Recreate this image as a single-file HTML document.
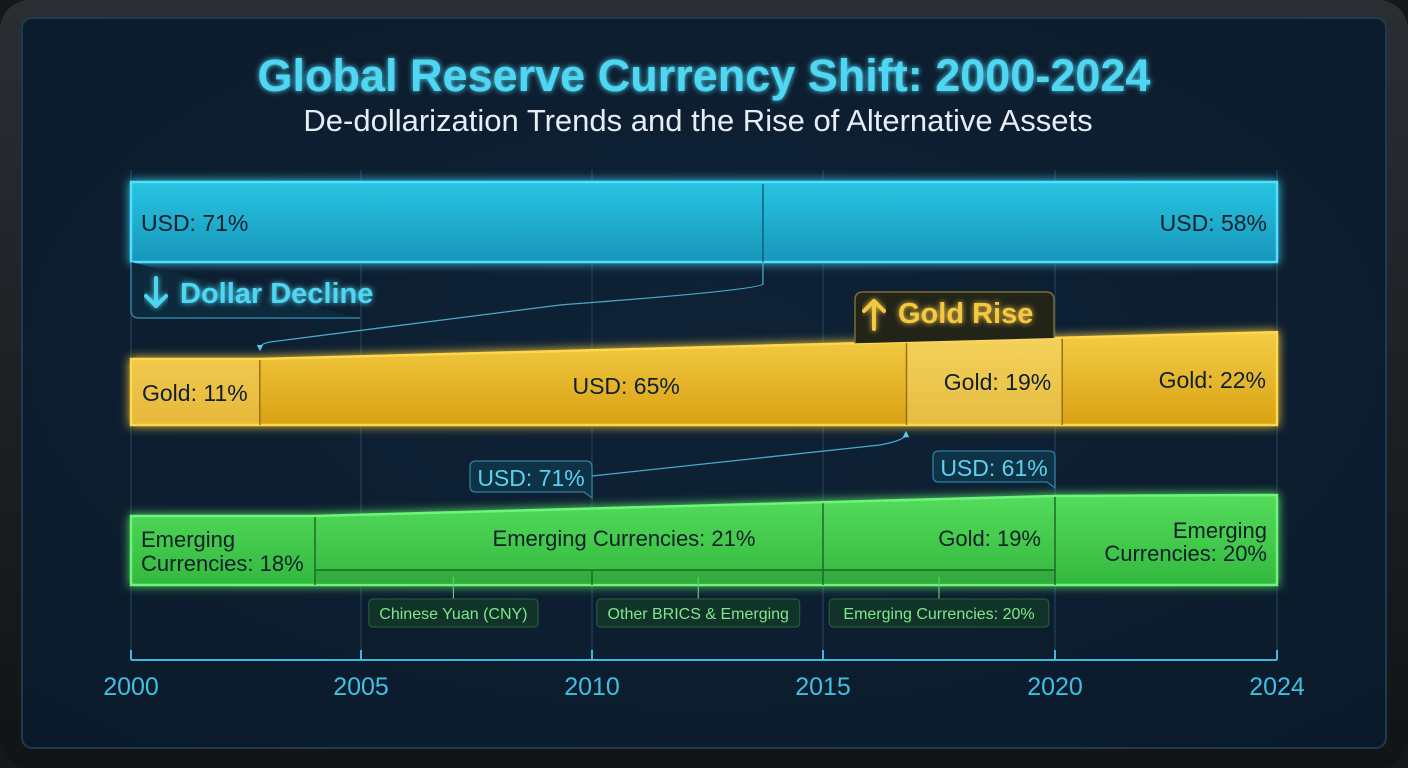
<!DOCTYPE html>
<html><head><meta charset="utf-8"><style>
html,body{margin:0;padding:0;width:1408px;height:768px;overflow:hidden;background:#15181b;}
svg{display:block;font-family:"Liberation Sans",sans-serif;}
</style></head><body>
<svg id="chart" width="1408" height="768" viewBox="0 0 1408 768">
<defs>
<linearGradient id="gBezel" x1="0" y1="0" x2="0" y2="1"><stop offset="0" stop-color="#2a2e33"/><stop offset="1" stop-color="#111315"/></linearGradient>
<radialGradient id="gScreen" cx="0.5" cy="0.45" r="0.75"><stop offset="0" stop-color="#0f2236"/><stop offset="1" stop-color="#0a1a2a"/></radialGradient>
<linearGradient id="gUsd" x1="0" y1="0" x2="0" y2="1"><stop offset="0" stop-color="#28c4e2"/><stop offset="1" stop-color="#1896ba"/></linearGradient>
<linearGradient id="gGold" x1="0" y1="0" x2="0" y2="1"><stop offset="0" stop-color="#f3cd45"/><stop offset="1" stop-color="#d9a114"/></linearGradient>
<linearGradient id="gGreen" x1="0" y1="0" x2="0" y2="1"><stop offset="0" stop-color="#55dc5c"/><stop offset="1" stop-color="#33b83e"/></linearGradient>
<filter id="glow" x="-10%" y="-30%" width="120%" height="160%"><feGaussianBlur stdDeviation="5" result="b"/><feMerge><feMergeNode in="b"/><feMergeNode in="SourceGraphic"/></feMerge></filter>
<filter id="tglow" x="-10%" y="-30%" width="120%" height="160%"><feGaussianBlur stdDeviation="3" result="b"/><feMerge><feMergeNode in="b"/><feMergeNode in="SourceGraphic"/></feMerge></filter>
<marker id="arr" viewBox="0 0 6 6" refX="3" refY="3" markerWidth="5" markerHeight="5" orient="auto"><path d="M0,0L6,3L0,6z" fill="#5cc8e6"/></marker>
</defs>
<rect x="0" y="0" width="1408" height="768" rx="30" fill="url(#gBezel)"/>
<rect x="22" y="18" width="1364" height="730" rx="10" fill="url(#gScreen)" stroke="#1c3a52" stroke-width="2"/>
<g id="grid"></g>
<text x="704" y="91" text-anchor="middle" font-size="45" font-weight="bold" fill="#4fd6f2" filter="url(#tglow)">Global Reserve Currency Shift: 2000-2024</text>
<text x="698" y="131" text-anchor="middle" font-size="31" fill="#e6edf4">De-dollarization Trends and the Rise of Alternative Assets</text>
<g id="bands"></g>
<g id="axis"></g>
</svg>
<script>
// ---- data ----
const tickYears = [2000, 2005, 2010, 2015, 2020, 2024];
const usdDividers = [2013.7];
const usdLabels = ["USD: 71%", "USD: 58%"];
const goldStartEnd = [11, 22];
const goldDividers = [2002.8, 2016.8, 2020.13];
const goldLabels = ["Gold: 11%", "USD: 65%", "Gold: 19%", "Gold: 22%"];
const greenStartEnd = [18, 20];
const greenDividers = [2004, 2015, 2020];
const greenSubDivider = [2010];
const subLabels = ["Chinese Yuan (CNY)", "Other BRICS & Emerging", "Emerging Currencies: 20%"];
const subLabelYears = [2007, 2012.3, 2017.5];
const calloutLabels = ["USD: 71%", "USD: 61%"];
const calloutYears = [2010, 2020];

// ---- scale (piecewise through tick pixel anchors) ----
const tickPx = [131, 361, 592, 823, 1055, 1277];
function x(y){
  for(let i=0;i<tickYears.length-1;i++){
    if(y<=tickYears[i+1]||i===tickYears.length-2){
      const t=(y-tickYears[i])/(tickYears[i+1]-tickYears[i]);
      return tickPx[i]+t*(tickPx[i+1]-tickPx[i]);
    }
  }
}
const NS="http://www.w3.org/2000/svg";
function mk(tag,attrs,parent,txt){const e=document.createElementNS(NS,tag);for(const k in attrs)e.setAttribute(k,attrs[k]);if(txt!==undefined)e.textContent=txt;parent.appendChild(e);return e;}
const grid=document.getElementById('grid'), bands=document.getElementById('bands'), axis=document.getElementById('axis');
const x0=x(2000), x1=x(2024);

tickYears.forEach(yr=>{
  const l=mk('line',{x1:x(yr),x2:x(yr),y1:170,y2:660,stroke:'#1d3a52','stroke-width':1.5},grid);
  
  
});

function txt(parent,xx,yy,s,opts,name){
  const t=mk('text',Object.assign({x:xx,y:yy,'font-size':23,fill:'#10202a'},opts||{}),parent,s);
  
  
  return t;
}
function arrow(parent,cx,yTop,yBot,color,up,name){
  const g=mk('g',{stroke:color,'stroke-width':4,fill:'none','stroke-linecap':'round','stroke-linejoin':'round',filter:'url(#tglow)'},parent);
  
  
  mk('line',{x1:cx,x2:cx,y1:yTop,y2:yBot},g);
  if(up) mk('polyline',{points:`${cx-10},${yTop+10} ${cx},${yTop} ${cx+10},${yTop+10}`},g);
  else mk('polyline',{points:`${cx-10},${yBot-10} ${cx},${yBot} ${cx+10},${yBot-10}`},g);
}

// ---- USD band ----
const usdTop=182, usdBot=262;
const usd=mk('rect',{x:x0,y:usdTop,width:x1-x0,height:usdBot-usdTop,fill:'url(#gUsd)',stroke:'#4fe0ff','stroke-width':2.5,filter:'url(#glow)'},bands);


usdDividers.forEach(d=>{const l=mk('line',{x1:x(d),x2:x(d),y1:usdTop+2,y2:usdBot,stroke:'#10607a','stroke-width':1.5},bands);
  });
txt(bands,x0+10,usdTop+49,usdLabels[0],{},'usd-start-label');
txt(bands,x1-10,usdTop+49,usdLabels[1],{'text-anchor':'end'},'usd-end-label');

const dd=mk('path',{d:`M${x0},${usdBot} V${usdBot+48} q0,8 8,8 H360`,fill:'#0d2a3c',stroke:'#2f7fa0','stroke-width':1.5},bands);

arrow(bands,156,278,306,'#4fd6f2',false,'dollar-decline-arrow');
txt(bands,180,303,'Dollar Decline',{'font-size':29,'font-weight':'bold',fill:'#4fd6f2',filter:'url(#tglow)'},'dollar-decline-label');

// ---- Gold band ----
const goldBot=425;
function th(v,base,k){return base+v*k;}
const gL=goldBot-th(goldStartEnd[0],39,2.45), gR=goldBot-th(goldStartEnd[1],39,2.45);
const gx1=x(goldDividers[0]);
function gTop(px){return px<=gx1?gL:gL+(gR-gL)*(px-gx1)/(x1-gx1);}
const gold=mk('path',{d:`M${x0},${gL} L${gx1},${gL} L${x1},${gR} L${x1},${goldBot} L${x0},${goldBot}Z`,fill:'url(#gGold)',stroke:'#ffd84a','stroke-width':2.5,filter:'url(#glow)'},bands);

const gfirst=mk('rect',{x:x0+1,y:gL+1,width:gx1-x0-1,height:goldBot-gL-2,fill:'#f4d062',opacity:0.5},bands);

const gmid=mk('path',{d:`M${x(goldDividers[1])},${gTop(x(goldDividers[1]))} L${x(goldDividers[2])},${gTop(x(goldDividers[2]))} V${goldBot-1} H${x(goldDividers[1])}Z`,fill:'#f7dc7a',opacity:0.45},bands);

goldDividers.forEach(d=>{const px=x(d);const l=mk('line',{x1:px,x2:px,y1:gTop(px)+1,y2:goldBot,stroke:'#9a7010','stroke-width':1.5},bands);
  });
const gsegs=[x0].concat(goldDividers.map(x)).concat([x1]);
txt(bands,x0+11,goldBot-24,goldLabels[0],{},'gold-2000-label');
txt(bands,(gsegs[1]+gsegs[2])/2+43,goldBot-31,goldLabels[1],{'text-anchor':'middle'},'usd-mid-label');
txt(bands,gsegs[3]-11,goldBot-35,goldLabels[2],{'text-anchor':'end'},'gold-2017-label');
txt(bands,x1-11,goldBot-37,goldLabels[3],{'text-anchor':'end'},'gold-2024-label');
const gr=mk('path',{d:`M855,${gTop(855)} V300 q0,-8 8,-8 H1046 q8,0 8,8 V${gTop(1054)}`,fill:'#222418',stroke:'#7a6c34','stroke-width':1.5},bands);

arrow(bands,874,301,329,'#f5c842',true,'gold-rise-arrow');
txt(bands,898,323,'Gold Rise',{'font-size':29,'font-weight':'bold',fill:'#f5c842',filter:'url(#tglow)'},'gold-rise-label');

const c1=mk('path',{d:`M${x(usdDividers[0])},${usdBot} V284 Q760,290 560,305 L270,342 Q260,344 260,348`,fill:'none',stroke:'#4aa8c8','stroke-width':1.3,'marker-end':'url(#arr)'},bands);


// ---- Green band ----
const grBot=585;
const eL=grBot-th(greenStartEnd[0],15,3), eR=grBot-th(greenStartEnd[1],29,3);
const ex1=x(greenDividers[0]), ex3=x(greenDividers[2]);
function eTop(px){return px<=ex1?eL:(px>=ex3?eR:eL+(eR-eL)*(px-ex1)/(ex3-ex1));}
const green=mk('path',{d:`M${x0},${eL} L${ex1},${eL} L${ex3},${eR} L${x1},${eR-1} L${x1},${grBot} L${x0},${grBot}Z`,fill:'url(#gGreen)',stroke:'#6cf57a','stroke-width':2.5,filter:'url(#glow)'},bands);

const sub=mk('rect',{x:ex1,y:570,width:ex3-ex1,height:grBot-571,fill:'#2f9e3a',opacity:0.45},bands);

const subl=mk('line',{x1:ex1,x2:ex3,y1:570,y2:570,stroke:'#1f6a28','stroke-width':1.5},bands);

greenDividers.forEach(d=>{const px=x(d);const l=mk('line',{x1:px,x2:px,y1:eTop(px)+1,y2:grBot,stroke:'#1f6a28','stroke-width':1.5},bands);
  });
greenSubDivider.forEach(d=>{const l=mk('line',{x1:x(d),x2:x(d),y1:570,y2:grBot,stroke:'#1f6a28','stroke-width':1.5},bands);
  });
txt(bands,x0+10,547,'Emerging',{'font-size':22},'emerging-2000-label-1');
txt(bands,x0+10,571,'Currencies: 18%',{'font-size':22},'emerging-2000-label-2');
txt(bands,(x(greenDividers[0])+x(greenDividers[1]))/2+55,546,'Emerging Currencies: 21%',{'text-anchor':'middle','font-size':22},'emerging-mid-label');
txt(bands,x(greenDividers[2])-14,546,'Gold: 19%',{'text-anchor':'end','font-size':22},'gold-green-label');
txt(bands,x1-10,538,'Emerging',{'text-anchor':'end','font-size':22},'emerging-2024-label-1');
txt(bands,x1-10,561,'Currencies: 20%',{'text-anchor':'end','font-size':22},'emerging-2024-label-2');

subLabels.forEach((s,i)=>{
  const cx=x(subLabelYears[i]);const w=s.length*8.4+18;
  const st=mk('line',{x1:cx,x2:cx,y1:577,y2:599,stroke:'#5ad064','stroke-width':1.2},bands);
  
  const b=mk('rect',{x:cx-w/2,y:599,width:w,height:28,rx:4,fill:'#12332a',stroke:'#235a3a','stroke-width':1.2},bands);
  
  txt(bands,cx,619,s,{'text-anchor':'middle','font-size':16,fill:'#7ee88a'},'sub-label-'+i);
});

const cY=[478,468];
calloutLabels.forEach((s,i)=>{
  const r=x(calloutYears[i]);const w=122;const yy=cY[i];
  const b=mk('path',{d:`M${r-w+6},${yy-17} H${r-6} q6,0 6,6 V${yy+20} l-8,-6 H${r-w+6} q-6,0 -6,-6 V${yy-11} q0,-6 6,-6Z`,fill:'#0f3346',stroke:'#2f7fa0','stroke-width':1.3},bands);
  
  txt(bands,r-w/2,yy+8,s,{'text-anchor':'middle','font-size':23,fill:'#5cd2f0'},'usd-callout-'+i);
});
const c2=mk('path',{d:`M${x(calloutYears[0])},476 L880,445 Q906,440 906,434`,fill:'none',stroke:'#4aa8c8','stroke-width':1.3,'marker-end':'url(#arr)'},bands);


// ---- axis ----
const al=mk('line',{x1:x0,x2:x1,y1:660,y2:660,stroke:'#3fb8dc','stroke-width':2},axis);

tickYears.forEach(yr=>{
  const t=mk('line',{x1:x(yr),x2:x(yr),y1:650,y2:660,stroke:'#3fb8dc','stroke-width':2},axis);
  
  const l=mk('text',{x:x(yr),y:695,'text-anchor':'middle','font-size':25,fill:'#3fc0e2'},axis,String(yr));
  
});
</script>
</body></html>
